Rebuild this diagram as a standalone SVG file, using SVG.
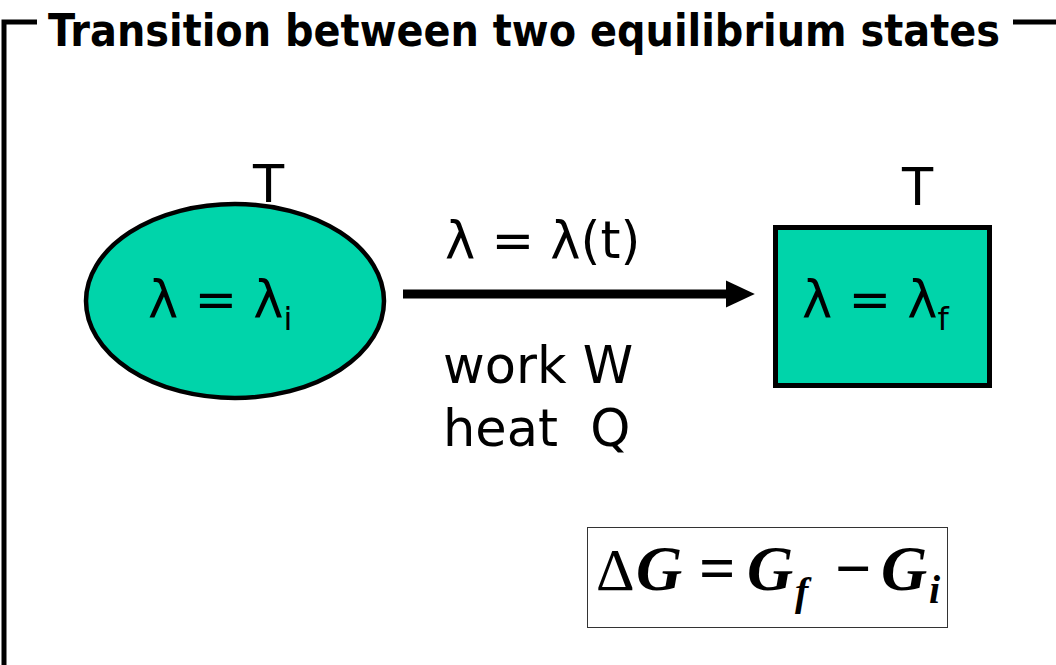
<svg xmlns="http://www.w3.org/2000/svg" width="1056" height="665" viewBox="0 0 1056 665">
<defs>
<style>
.lbl{font-family:"DejaVu Sans","Liberation Sans",sans-serif;font-size:51px;fill:#000}
.sub{font-size:32px}
.node{fill:#00d4aa;stroke:#000}
.frame{stroke:#000;stroke-width:5;fill:none}
.eq{font-family:"Liberation Serif","Times New Roman",serif;font-size:64px;font-weight:bold;font-style:italic;fill:#000}
</style>
<marker id="ah" markerWidth="4" markerHeight="4" refX="1" refY="2" orient="auto" markerUnits="strokeWidth">
<path d="M0,0.5 L3.2,2 L0,3.5 Z" fill="#000"/>
</marker>
</defs>
<rect width="1056" height="665" fill="#fff"/>
<g id="frame">
<path class="frame" d="M4,665 V22 H37"/>
<path class="frame" d="M1013,22 H1056"/>
<text x="48" y="46" font-family="'Comic Sans MS','DejaVu Sans Condensed','DejaVu Sans',sans-serif" font-weight="bold" font-size="44" textLength="952" lengthAdjust="spacingAndGlyphs">Transition between two equilibrium states</text>
</g>
<g id="connectors">
<line x1="403" y1="294" x2="735" y2="294" stroke="#000" stroke-width="9" marker-end="url(#ah)"/>
<text class="lbl" x="445" y="258">λ = λ(t)</text>
<text class="lbl" x="443" y="383">work W</text>
<text class="lbl" x="443" y="446" xml:space="preserve">heat  Q</text>
</g>
<g id="initial">
<ellipse class="node" cx="235" cy="301" rx="149" ry="97" stroke-width="4.5"/>
<text class="lbl" x="253" y="202">T</text>
<text class="lbl" x="148" y="317">λ = λ<tspan class="sub" dy="13">i</tspan></text>
</g>
<g id="final">
<rect class="node" x="775.5" y="227.5" width="214" height="158" stroke-width="5"/>
<text class="lbl" x="902" y="205">T</text>
<text class="lbl" x="802" y="317">λ = λ<tspan class="sub" dy="13">f</tspan></text>
</g>
<g id="formula">
<rect x="587.5" y="527.5" width="360" height="100" fill="#fff" stroke="#333" stroke-width="1"/>
<text class="eq"><tspan x="596" y="590" font-style="normal" font-weight="normal" font-size="60">Δ</tspan><tspan x="636" y="590">G</tspan><tspan x="699" y="590" font-style="normal">=</tspan><tspan x="747" y="590">G</tspan><tspan x="795" y="605" font-size="40">f</tspan><tspan x="835" y="590" font-style="normal">−</tspan><tspan x="881" y="590">G</tspan><tspan x="929" y="603" font-size="40">i</tspan></text>
</g>
</svg>
